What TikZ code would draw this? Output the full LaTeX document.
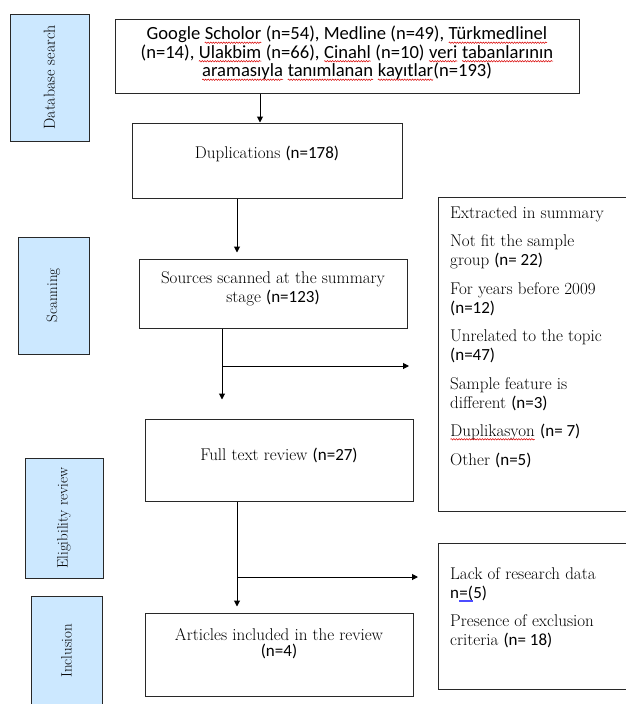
\documentclass[tikz,border=0pt]{standalone}
\usepackage{fontspec}
\newfontfamily\calib{Carlito}
\usetikzlibrary{arrows.meta,decorations.pathmorphing}
\definecolor{lblue}{RGB}{204,232,255}
\definecolor{edge}{RGB}{40,40,40}
\newcommand\sq[1]{\tikz[baseline=(w.base),x=1pt,y=1pt]{\node[inner sep=0pt,outer sep=0pt](w){#1};
  \draw[red!85!black, line width=0.5pt, decorate, decoration={snake, amplitude=0.7pt, segment length=2.6pt}] ([yshift=-2.8pt]w.base west) -- ([yshift=-2.8pt]w.base east);}}
\newcommand\bu[1]{\tikz[baseline=(w.base),x=1pt,y=1pt]{\node[inner sep=0pt,outer sep=0pt](w){#1};
  \draw[blue!70, line width=0.6pt] ([yshift=-1.8pt]w.base west) -- ([yshift=-1.8pt]w.base east);
  \draw[blue!70, line width=0.6pt] ([yshift=-3.4pt]w.base west) -- ([yshift=-3.4pt]w.base east);}}
\newcommand\nn[1]{{\calib #1}}
\tikzset{
  lab/.style={draw=edge, line width=1pt, fill=lblue, rotate=90, inner sep=0pt, font=\fontsize{15}{16}\selectfont},
  box/.style={draw=edge, line width=1pt, inner sep=0pt},
  txt/.style={inner sep=0pt, align=center, font=\fontsize{17}{19}\selectfont},
  arr/.style={line width=1pt, -{Triangle[length=6pt,width=6pt]}},
  ln/.style={line width=1pt}
}
\begin{document}
\begin{tikzpicture}[x=1pt,y=-1pt]
\useasboundingbox (0,0) rectangle (625,704);
% stage labels
\node[lab, minimum width=127, minimum height=79, font=\fontsize{16}{17}\selectfont] (l1) at (49.5,77.5) {Database search};
\node[lab, minimum width=117, minimum height=71] (l2) at (53.5,295.5) {Scanning};
\node[lab, minimum width=120, minimum height=78] (l3) at (64,518) {Eligibility review};
\node[lab, minimum width=110, minimum height=71] (l4) at (66.5,651) {Inclusion};
% main boxes
\node[box, minimum width=464, minimum height=74] (b1) at (347,56) {};
\node[box, minimum width=270, minimum height=75] (b2) at (267,160.5) {};
\node[box, minimum width=268, minimum height=69] (b3) at (273,293.5) {};
\node[box, minimum width=268, minimum height=82] (b4) at (279,460) {};
\node[box, minimum width=268, minimum height=83] (b5) at (279,654.5) {};
\node[box, minimum width=192, minimum height=314] (e1) at (534,354) {};
\node[box, minimum width=192, minimum height=146] (e2) at (534,616) {};
% texts
\node[txt, font=\calib\fontsize{18.6}{18.5}\selectfont] (t1) at (347,53.5)
  {Google \sq{Scholor} (n=54), Medline (n=49), \sq{Türkmedlinel}\\
   (n=14), \sq{Ulakbim} (n=66), \sq{Cinahl} (n=10) \sq{veri} \sq{tabanlarının}\\
   \sq{aramasıyla} \sq{tanımlanan} \sq{kayıtlar}(n=193)};
\node[txt] (t2) at (267,154) {Duplications \nn{(n=178)}};
\node[txt] (t3) at (273,289) {Sources scanned at the summary\\ stage \nn{(n=123)}};
\node[txt] (t4) at (279,455) {Full text review \nn{(n=27)}};
\node[txt, align=center, font=\fontsize{17}{16}\selectfont] (t5) at (279,644) {Articles included in the review\\ \nn{(n=4)}};
\node[txt, anchor=north west, align=left] (t6) at (450,206)
  {Extracted in summary\\[9.5pt]
   Not fit the sample\\ group \nn{(n= 22)}\\[9.5pt]
   For years before 2009\\ \nn{(n=12)}\\[9.5pt]
   Unrelated to the topic\\ \nn{(n=47)}\\[9.5pt]
   Sample feature is\\ different \nn{(n=3)}\\[9.5pt]
   \sq{Duplikasyon} \nn{(n= 7)}\\[9.5pt]
   Other \nn{(n=5)}};
\node[txt, anchor=north west, align=left] (t7) at (450,567)
  {Lack of research data\\ \nn{n\bu{=(}5)}\\[9.5pt]
   Presence of exclusion\\ criteria \nn{(n= 18)}};
% connectors
\coordinate (x1) at (260,0);
\coordinate (x2) at (237,0);
\coordinate (x3) at (222,0);
\coordinate (y3) at (0,366);
\coordinate (y4) at (0,577);
\coordinate (f1) at (409,366);
\coordinate (f2) at (418,577);
\draw[arr] (b1.south -| x1) -- (b2.north -| x1);
\draw[arr, shorten >=6pt] (b2.south -| x2) -- (b3.north -| x2);
\draw[arr, shorten >=19pt] (b3.south -| x3) -- (b4.north -| x3);
\draw[arr] (y3 -| x3) -- (f1);
\draw[arr, shorten >=6pt] (b4.south -| x2) -- (b5.north -| x2);
\draw[arr] (y4 -| x2) -- (f2);
\end{tikzpicture}
\end{document}
